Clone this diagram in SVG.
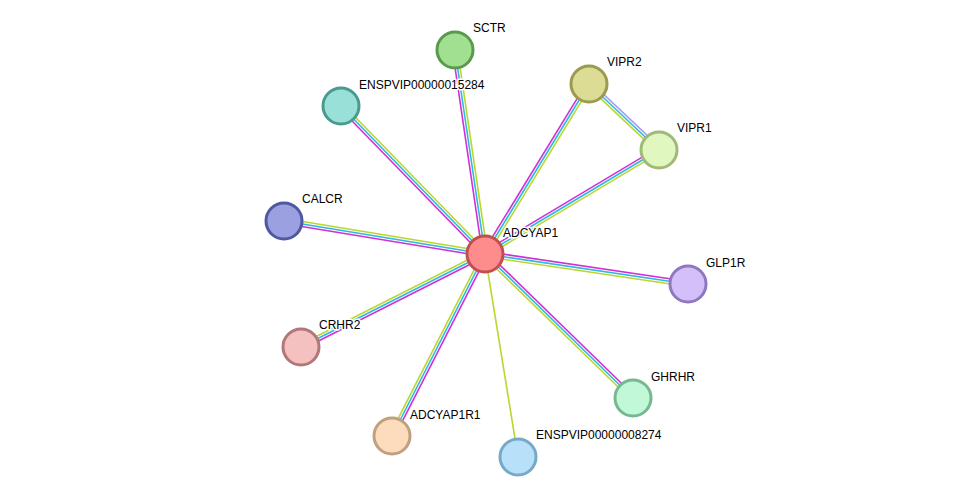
<svg xmlns="http://www.w3.org/2000/svg" width="976" height="502" viewBox="0 0 976 502">
<style>
.m{stroke:#d030d8;stroke-width:1.6}
.c{stroke:#30b8e0;stroke-width:1.6}
.y{stroke:#b8d830;stroke-width:1.6}
.l{stroke:#a8a0f0;stroke-width:1.6}
circle{stroke-width:3}
text{font-family:"Liberation Sans",Arial,sans-serif;font-size:12px;fill:#000;stroke:#fff;stroke-width:3;paint-order:stroke;stroke-linejoin:round}
</style>
<rect width="976" height="502" fill="#fff"/>
<g id="connectors">
<g><line class="m" x1="485" y1="254" x2="455" y2="50" transform="translate(-2.48,0.36)"/><line class="c" x1="485" y1="254" x2="455" y2="50"/><line class="y" x1="485" y1="254" x2="455" y2="50" transform="translate(2.48,-0.36)"/></g>
<g><line class="m" x1="485" y1="254" x2="341" y2="106" transform="translate(-1.79,1.74)"/><line class="c" x1="485" y1="254" x2="341" y2="106"/><line class="y" x1="485" y1="254" x2="341" y2="106" transform="translate(1.79,-1.74)"/></g>
<g><line class="m" x1="485" y1="254" x2="589" y2="84" transform="translate(-2.14,-1.31)"/><line class="c" x1="485" y1="254" x2="589" y2="84"/><line class="y" x1="485" y1="254" x2="589" y2="84" transform="translate(2.14,1.31)"/></g>
<g><line class="m" x1="485" y1="254" x2="659" y2="150" transform="translate(-1.28,-2.14)"/><line class="c" x1="485" y1="254" x2="659" y2="150"/><line class="y" x1="485" y1="254" x2="659" y2="150" transform="translate(1.28,2.14)"/></g>
<g><line class="m" x1="485" y1="254" x2="284" y2="221" transform="translate(-0.4,2.46)"/><line class="c" x1="485" y1="254" x2="284" y2="221"/><line class="y" x1="485" y1="254" x2="284" y2="221" transform="translate(0.4,-2.46)"/></g>
<g><line class="m" x1="485" y1="254" x2="688" y2="284" transform="translate(0.37,-2.48)"/><line class="c" x1="485" y1="254" x2="688" y2="284"/><line class="y" x1="485" y1="254" x2="688" y2="284" transform="translate(-0.37,2.48)"/></g>
<g><line class="m" x1="485" y1="254" x2="301" y2="347" transform="translate(1.13,2.23)"/><line class="c" x1="485" y1="254" x2="301" y2="347"/><line class="y" x1="485" y1="254" x2="301" y2="347" transform="translate(-1.13,-2.23)"/></g>
<g><line class="m" x1="485" y1="254" x2="633" y2="398" transform="translate(1.74,-1.79)"/><line class="c" x1="485" y1="254" x2="633" y2="398"/><line class="y" x1="485" y1="254" x2="633" y2="398" transform="translate(-1.74,1.79)"/></g>
<g><line class="m" x1="485" y1="254" x2="392" y2="436" transform="translate(2.23,1.14)"/><line class="c" x1="485" y1="254" x2="392" y2="436"/><line class="y" x1="485" y1="254" x2="392" y2="436" transform="translate(-2.23,-1.14)"/></g>
<line class="y" x1="485" y1="254" x2="518" y2="457"/>
<g><line class="l" x1="589" y1="84" x2="659" y2="150" transform="translate(1.72,-1.82)"/><line class="c" x1="589" y1="84" x2="659" y2="150"/><line class="y" x1="589" y1="84" x2="659" y2="150" transform="translate(-1.72,1.82)"/></g>
</g>
<g id="SCTR"><circle cx="455" cy="50" r="18" fill="#a0e090" stroke="#5a9a50"/><text x="473" y="32">SCTR</text></g>
<g id="ENSPVIP00000015284"><circle cx="341" cy="106" r="18" fill="#98e0d8" stroke="#4a9a90"/><text x="359" y="89">ENSPVIP00000015284</text></g>
<g id="VIPR2"><circle cx="589" cy="84" r="18" fill="#dcdc94" stroke="#9a9a50"/><text x="607" y="66">VIPR2</text></g>
<g id="VIPR1"><circle cx="659" cy="150" r="18" fill="#e0f8c0" stroke="#a0b878"/><text x="677" y="132">VIPR1</text></g>
<g id="CALCR"><circle cx="284" cy="221" r="18" fill="#9aa0e0" stroke="#5058a0"/><text x="302" y="203">CALCR</text></g>
<g id="ADCYAP1"><circle cx="485" cy="254" r="18" fill="#ff8c8c" stroke="#c05050"/><text x="503" y="237">ADCYAP1</text></g>
<g id="GLP1R"><circle cx="688" cy="284" r="18" fill="#d4c0f8" stroke="#9078c0"/><text x="706" y="267">GLP1R</text></g>
<g id="CRHR2"><circle cx="301" cy="347" r="18" fill="#f4c0c0" stroke="#b07878"/><text x="319" y="329">CRHR2</text></g>
<g id="GHRHR"><circle cx="633" cy="398" r="18" fill="#c0f8d8" stroke="#78b890"/><text x="651" y="381">GHRHR</text></g>
<g id="ADCYAP1R1"><circle cx="392" cy="436" r="18" fill="#fcdcbc" stroke="#c0a080"/><text x="410" y="419">ADCYAP1R1</text></g>
<g id="ENSPVIP00000008274"><circle cx="518" cy="457" r="18" fill="#b8e0f8" stroke="#78a8c8"/><text x="536" y="439">ENSPVIP00000008274</text></g>
</svg>
